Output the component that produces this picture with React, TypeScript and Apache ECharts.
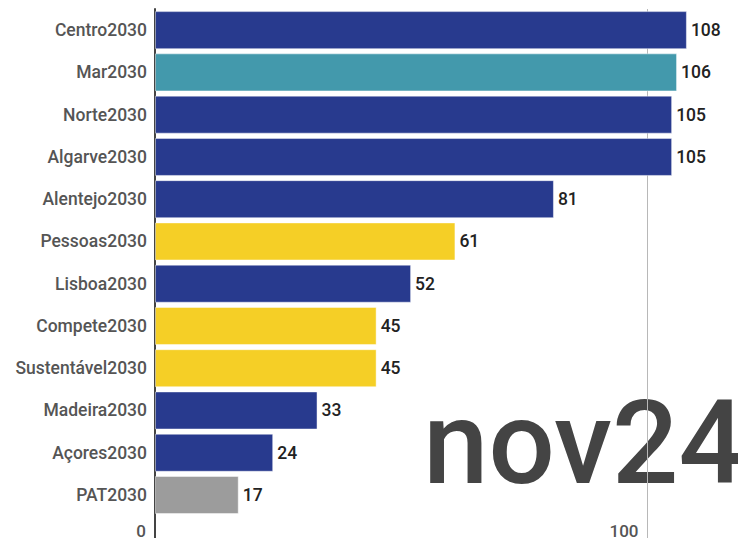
import React, { useEffect, useRef } from "react";
import * as echarts from "echarts";

const categories = [
  "Centro2030",
  "Mar2030",
  "Norte2030",
  "Algarve2030",
  "Alentejo2030",
  "Pessoas2030",
  "Lisboa2030",
  "Compete2030",
  "Sustentável2030",
  "Madeira2030",
  "Açores2030",
  "PAT2030",
];
const values = [108, 106, 105, 105, 81, 61, 52, 45, 45, 33, 24, 17];
const barColors = [
  "#283a8e",
  "#4399ac",
  "#283a8e",
  "#283a8e",
  "#283a8e",
  "#f5cf26",
  "#283a8e",
  "#f5cf26",
  "#f5cf26",
  "#283a8e",
  "#283a8e",
  "#9c9c9c",
];
const periodLabel = "nov24";
const xTicks = { min: 0, max: 120, interval: 100 };

export default function App() {
  const ref = useRef<HTMLDivElement>(null);
  useEffect(() => {
    if (!ref.current) return;
    const chart = echarts.init(ref.current, null, { renderer: "svg" });
    const font = "Roboto";
    chart.setOption({
      animation: false,
      grid: {
        left: 155,
        right: 0,
        top: 9,
        height: 549.4,
        containLabel: false,
        outerBoundsMode: "none",
      },
      xAxis: {
        type: "value",
        min: xTicks.min,
        max: xTicks.max,
        interval: xTicks.interval,
        axisLine: { show: false },
        axisTick: { show: false },
        splitLine: { show: true, lineStyle: { color: "#b8b8b8", width: 1 } },
        axisLabel: {
          inside: true,
          margin: 19,
          align: "right",
          verticalAlign: "bottom",
          padding: [0, 9, 0, 0],
          showMaxLabel: false,
          color: "#555",
          fontSize: 17,
          fontWeight: 500,
          fontFamily: font,
        },
      },
      yAxis: {
        type: "category",
        data: categories,
        inverse: true,
        min: 0,
        max: categories.length,
        axisLine: { show: true, lineStyle: { color: "#444", width: 2 } },
        axisTick: { show: false },
        axisLabel: {
          margin: 8,
          color: "#555",
          fontSize: 17.5,
          fontWeight: 500,
          fontFamily: font,
          formatter: (v: any) => (v && v !== "undefined" ? v : ""),
        },
      },
      graphic: [
        {
          type: "text",
          right: 1,
          top: 384,
          z: 0,
          style: {
            text: periodLabel,
            fill: "#444",
            font: `500 117px ${font}`,
          },
        },
      ],
      series: [
        {
          type: "bar",
          barCategoryGap: "10%",
          z: 2,
          data: values.map((v, i) => ({
            value: v,
            itemStyle: {
              color: barColors[i],
              borderColor: "rgba(255,255,255,0.45)",
              borderWidth: 1,
            },
          })),
          label: {
            show: true,
            position: "right",
            distance: 4,
            color: "#222",
            fontSize: 17.5,
            fontWeight: 500,
            fontFamily: font,
          },
        },
      ],
    });
    return () => chart.dispose();
  }, []);
  return <div ref={ref} style={{ width: 746, height: 546, margin: -8 }} />;
}
